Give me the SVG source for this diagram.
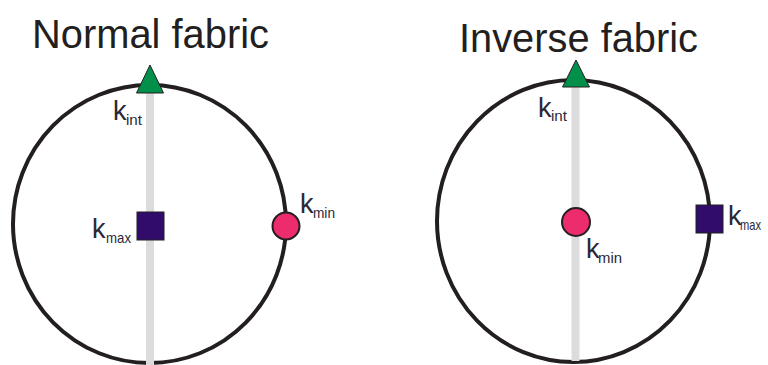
<svg xmlns="http://www.w3.org/2000/svg" width="768" height="365" viewBox="0 0 768 365">
<style>
.title{font-family:"Liberation Sans",Arial,sans-serif;font-size:41px;fill:#231f20}
.k{font-family:"Liberation Sans",Arial,sans-serif;font-size:27px;fill:#2a2838}
.sub{font-family:"Liberation Sans",Arial,sans-serif;font-size:15px;fill:#2a2838}
.ring{fill:none;stroke:#231f20;stroke-width:4}
.axis{stroke:#dcdcdc;stroke-width:8;fill:none}
.tri{fill:#00904a;stroke:#231f20;stroke-width:1}
.sq{fill:#310c6b;stroke:#231f20;stroke-width:1}
.dot{fill:#ec2c6c;stroke:#231f20;stroke-width:2}
</style>
<rect width="768" height="365" fill="#ffffff"/>
<text class="title" x="32" y="48" textLength="237" lengthAdjust="spacingAndGlyphs">Normal fabric</text>
<text class="title" x="459" y="52" textLength="239" lengthAdjust="spacingAndGlyphs">Inverse fabric</text>
<g id="ring-normal"><ellipse class="ring" cx="149.5" cy="224" rx="136.5" ry="139"/></g>
<g id="ring-inverse"><ellipse class="ring" cx="573.5" cy="221" rx="136.5" ry="141"/></g>
<g id="connectors">
<line class="axis" x1="150" y1="92" x2="150" y2="365"/>
<line class="axis" x1="575.5" y1="86" x2="575.5" y2="361"/>
</g>
<g id="kint-normal">
<polygon class="tri" points="150,65 136.5,93 163.5,93"/>
<text class="k" x="113" y="120">k</text>
<text class="sub" x="126" y="125" textLength="16" lengthAdjust="spacingAndGlyphs">int</text>
</g>
<g id="kmax-normal">
<rect class="sq" x="137" y="212" width="27" height="28"/>
<text class="k" x="92" y="238">k</text>
<text class="sub" x="106" y="243" textLength="25" lengthAdjust="spacingAndGlyphs">max</text>
</g>
<g id="kmin-normal">
<circle class="dot" cx="286" cy="226" r="13.5"/>
<text class="k" x="300" y="213">k</text>
<text class="sub" x="313" y="218" textLength="22" lengthAdjust="spacingAndGlyphs">min</text>
</g>
<g id="kint-inverse">
<polygon class="tri" points="576,60 562.5,87 589.5,87"/>
<text class="k" x="538" y="117">k</text>
<text class="sub" x="551" y="121" textLength="16" lengthAdjust="spacingAndGlyphs">int</text>
</g>
<g id="kmin-inverse">
<circle class="dot" cx="576" cy="222" r="14"/>
<text class="k" x="586" y="258">k</text>
<text class="sub" x="598" y="263" textLength="24" lengthAdjust="spacingAndGlyphs">min</text>
</g>
<g id="kmax-inverse">
<rect class="sq" x="696" y="205" width="27" height="28"/>
<text class="k" x="728" y="225">k</text>
<text class="sub" x="740" y="230" textLength="21" lengthAdjust="spacingAndGlyphs">max</text>
</g>
</svg>
